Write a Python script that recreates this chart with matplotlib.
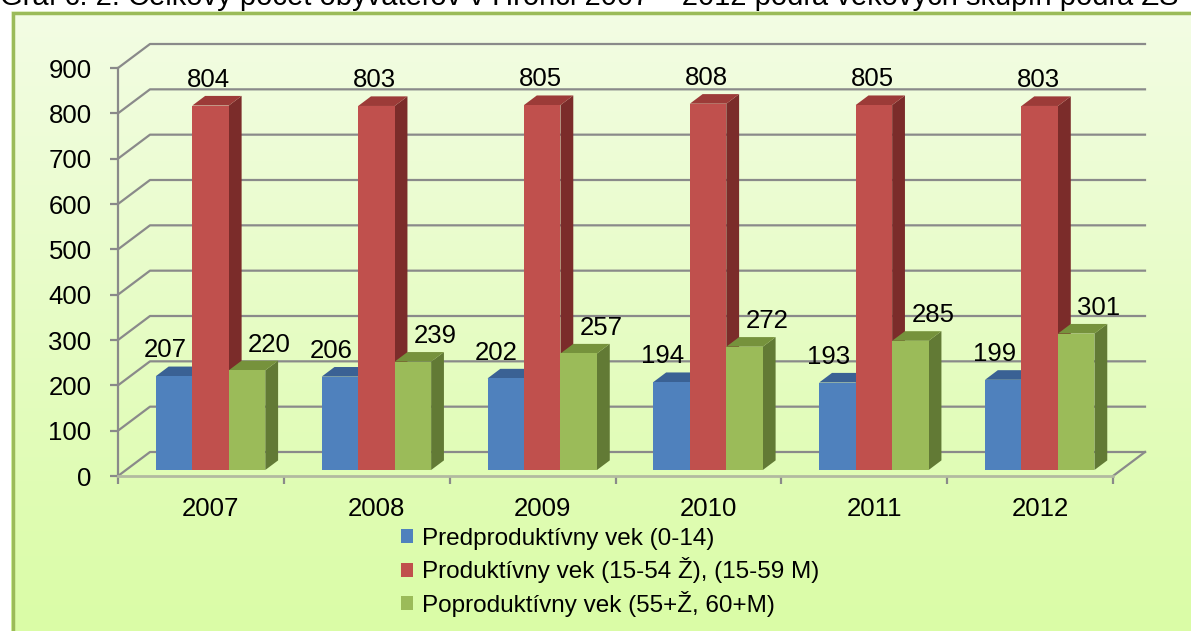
import numpy as np
import matplotlib.pyplot as plt
from matplotlib.patches import Polygon, Rectangle, Patch

plt.rcParams['font.family'] = ['Liberation Sans', 'DejaVu Sans']

# data
roky = ['2007', '2008', '2009', '2010', '2011', '2012']
predprod = [207, 206, 202, 194, 193, 199]
prod = [804, 803, 805, 808, 805, 803]
poprod = [220, 239, 257, 272, 285, 301]
nazvy = ['Predproduktívny vek (0-14)',
         'Produktívny vek (15-54 Ž), (15-59 M)',
         'Poproduktívny vek (55+Ž, 60+M)']
nadpis = 'Graf č. 2: Celkový počet obyvateľov v Hronci 2007 – 2012 podľa vekových skupín podľa ZS'

# farby: predna stena, vrch, bok
farby = [('#4f81bd', '#3a6194', '#2f4f78'),
         ('#c0504d', '#9c3b38', '#7b2c2a'),
         ('#9bbb59', '#76923c', '#627a35')]

W, H = 1191, 631
fig = plt.figure(figsize=(W / 100, H / 100), dpi=100)

# pozadie s prechodom
bg = fig.add_axes([11 / W, 0, 1 - 11 / W, (H - 11) / H])
grad = np.linspace(0, 1, 256).reshape(-1, 1)
c1 = np.array([0xf3, 0xfd, 0xe4]) / 255
c2 = np.array([0xda, 0xfc, 0xa6]) / 255
img = c1[None, None, :] * (1 - grad[:, :, None]) + c2[None, None, :] * grad[:, :, None]
bg.imshow(img, aspect='auto', extent=[0, 1, 0, 1])
bg.axis('off')
fig.patches.append(Rectangle((12.5 / W, -0.1), 1.2, (H - 12.5) / H + 0.1,
                             transform=fig.transFigure, fill=False,
                             ec='#9bbb59', lw=2.5, zorder=1))

# nadpis je v predlohe z vacsej casti orezany hornym okrajom
fig.text(0.0, 1 - 5 / H, nadpis, fontsize=21, va='baseline', ha='left')

ax = fig.add_axes([118 / W, (H - 476) / H, 995 / W, 408 / H])
ax.patch.set_visible(False)
ax.set_xlim(0, 6)
ax.set_ylim(0, 900)

DX = 32 / (995 / 6)
DY = 24 / (408 / 900)
grid_c = '#8a8a8a'

# mriezka na zadnej a bocnej stene
for v in range(0, 901, 100):
    ax.plot([0, DX, 6 + DX], [v, v + DY, v + DY], color=grid_c, lw=1.6,
            clip_on=False, zorder=1)
ax.plot([6, 6 + DX], [0, DY], color=grid_c, lw=1.6, clip_on=False, zorder=1)

for s in ['top', 'right']:
    ax.spines[s].set_visible(False)
ax.spines['left'].set_color(grid_c)
ax.spines['left'].set_linewidth(1.6)
ax.spines['bottom'].set_color('#b2baa0')
ax.spines['bottom'].set_linewidth(2)

ax.set_yticks(range(0, 901, 100))
ax.tick_params(axis='y', length=6, width=1.6, color=grid_c, pad=13, labelsize=18.5)
ax.set_xticks(range(7))
ax.set_xticklabels([])
ax.tick_params(axis='x', which='major', length=6, width=1.6, color=grid_c)
ax.set_xticks(np.arange(6) + 0.56, minor=True)
ax.set_xticklabels(roky, minor=True)
ax.tick_params(axis='x', which='minor', length=0, pad=15, labelsize=18.5)

# 3D stlpce
z0, z1 = 0.25, 0.65
w = 0.22
off0 = 0.18
lab_dx = [-0.055, -0.01, 0.135]
serie = [predprod, prod, poprod]
for i in range(len(roky)):
    for j, hodnoty in enumerate(serie):
        v = hodnoty[i]
        xl = i + off0 + j * w
        xr = xl + w
        fc, tc, sc = farby[j]
        front = Polygon([(xl + z0 * DX, z0 * DY), (xr + z0 * DX, z0 * DY),
                         (xr + z0 * DX, v + z0 * DY), (xl + z0 * DX, v + z0 * DY)],
                        closed=True, fc=fc, ec='none', zorder=3 + i * 3 + j)
        top = Polygon([(xl + z0 * DX, v + z0 * DY), (xr + z0 * DX, v + z0 * DY),
                       (xr + z1 * DX, v + z1 * DY), (xl + z1 * DX, v + z1 * DY)],
                      closed=True, fc=tc, ec='none', zorder=3 + i * 3 + j)
        side = Polygon([(xr + z0 * DX, z0 * DY), (xr + z1 * DX, z1 * DY),
                        (xr + z1 * DX, v + z1 * DY), (xr + z0 * DX, v + z0 * DY)],
                       closed=True, fc=sc, ec='none', zorder=3 + i * 3 + j)
        for p in (side, top, front):
            p.set_clip_on(False)
            ax.add_patch(p)
        ax.text(xl + w / 2 + z0 * DX + lab_dx[j], v + 70, str(v), fontsize=18.5,
                ha='center', va='center', zorder=40, clip_on=False)

handles = [Patch(fc=farby[j][0], ec='none', label=nazvy[j]) for j in range(3)]
fig.legend(handles=handles, loc='upper left',
           bbox_to_anchor=(401 / W, (H - 528) / H), frameon=False, fontsize=17.5,
           handlelength=0.5, handleheight=0.5, handletextpad=0.35,
           labelspacing=0.3, borderpad=0, borderaxespad=0)

fig.savefig('out.png', dpi=100)
